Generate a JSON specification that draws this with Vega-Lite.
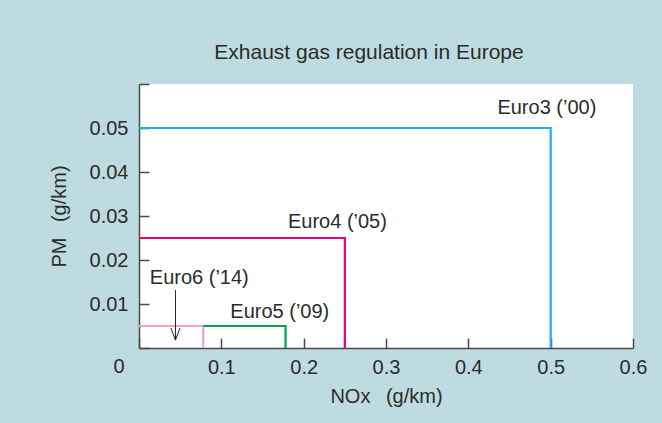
{
  "$schema": "https://vega.github.io/schema/vega-lite/v6.json",
  "width": 494,
  "height": 264,
  "autosize": {"type": "none"},
  "padding": {"left": 139, "top": 84, "right": 29, "bottom": 75},
  "background": "#bddbe0",
  "config": {
    "view": {"fill": "white", "stroke": null},
    "font": "Liberation Sans"
  },
  "title": {
    "text": "Exhaust gas regulation in Europe",
    "fontSize": 21,
    "fontWeight": "normal",
    "color": "#2b2b2b",
    "font": "Liberation Sans",
    "baseline": "alphabetic",
    "anchor": "middle",
    "offset": 3,
    "dx": -17
  },
  "datasets": {
    "limits": [
      {"series": "Euro3", "o": 1, "x": 0, "y": 0.05},
      {"series": "Euro3", "o": 2, "x": 0.5, "y": 0.05},
      {"series": "Euro3", "o": 3, "x": 0.5, "y": 0},
      {"series": "Euro4", "o": 1, "x": 0, "y": 0.025},
      {"series": "Euro4", "o": 2, "x": 0.25, "y": 0.025},
      {"series": "Euro4", "o": 3, "x": 0.25, "y": 0},
      {"series": "Euro6", "o": 1, "x": 0, "y": 0.005},
      {"series": "Euro6", "o": 2, "x": 0.078, "y": 0.005},
      {"series": "Euro6", "o": 3, "x": 0.078, "y": 0},
      {"series": "Euro5", "o": 1, "x": 0.078, "y": 0.005},
      {"series": "Euro5", "o": 2, "x": 0.178, "y": 0.005},
      {"series": "Euro5", "o": 3, "x": 0.178, "y": 0}
    ],
    "labels": [
      {"label": "Euro3 (’00)", "x": 0.4954, "y": 0.0531},
      {"label": "Euro4 (’05)", "x": 0.241, "y": 0.0273},
      {"label": "Euro5 (’09)", "x": 0.171, "y": 0.0068},
      {"label": "Euro6 (’14)", "x": 0.0732, "y": 0.0145}
    ],
    "arrow": [
      {"x": 0.0443, "y": 0.0132, "y2": 0.0018}
    ],
    "origin": [
      {"x": 0, "y": 0, "label": "0"}
    ]
  },
  "encoding": {
    "x": {
      "field": "x",
      "type": "quantitative",
      "scale": {"domain": [0, 0.6], "nice": false, "zero": true},
      "axis": {
        "values": [0, 0.1, 0.2, 0.3, 0.4, 0.5, 0.6],
        "format": ".1f",
        "labelExpr": "datum.value < 0.001 ? '' : datum.label",
        "grid": false,
        "domainColor": "#4a4a4a",
        "domainWidth": 1.5,
        "tickColor": "#4a4a4a",
        "tickWidth": 1.5,
        "tickSize": -10,
        "labelPadding": 19,
        "labelFlush": false,
        "labelFontSize": 20,
        "labelColor": "#2b2b2b",
        "labelFont": "Liberation Sans",
        "title": "NOx\u2002 (g/km)",
        "titleFont": "Liberation Sans",
        "titleFontSize": 20,
        "titleFontWeight": "normal",
        "titleColor": "#2b2b2b",
        "titleBaseline": "alphabetic",
        "titleY": 54
      }
    },
    "y": {
      "field": "y",
      "type": "quantitative",
      "scale": {"domain": [0, 0.06], "nice": false, "zero": true},
      "axis": {
        "values": [0, 0.01, 0.02, 0.03, 0.04, 0.05, 0.06],
        "format": ".2f",
        "labelExpr": "datum.value < 0.001 || datum.value > 0.055 ? '' : datum.label",
        "grid": false,
        "domainColor": "#4a4a4a",
        "domainWidth": 1.5,
        "tickColor": "#4a4a4a",
        "tickWidth": 1.5,
        "tickSize": -10,
        "labelPadding": 21,
        "labelFontSize": 20,
        "labelColor": "#2b2b2b",
        "labelFont": "Liberation Sans",
        "title": "PM\u2002 (g/km)",
        "titleFont": "Liberation Sans",
        "titleFontSize": 20,
        "titleFontWeight": "normal",
        "titleColor": "#2b2b2b",
        "titleAngle": 270,
        "titleBaseline": "alphabetic",
        "titleAlign": "center",
        "titleX": -74,
        "titleY": 132
      }
    }
  },
  "layer": [
    {
      "data": {"name": "limits"},
      "mark": {"type": "line", "strokeWidth": 2.2},
      "encoding": {
        "color": {
          "field": "series",
          "type": "nominal",
          "scale": {
            "domain": ["Euro3", "Euro4", "Euro5", "Euro6"],
            "range": ["#19b0ea", "#e6007e", "#00a551", "#f2a2c9"]
          },
          "legend": null
        },
        "order": {"field": "o", "type": "quantitative"}
      }
    },
    {
      "data": {"name": "labels"},
      "mark": {"type": "text", "fontSize": 20, "align": "center", "baseline": "alphabetic", "color": "#2b2b2b", "font": "Liberation Sans"},
      "encoding": {
        "text": {"field": "label", "type": "nominal"}
      }
    },
    {
      "data": {"name": "arrow"},
      "mark": {"type": "rule", "color": "#222222", "strokeWidth": 1},
      "encoding": {
        "y2": {"field": "y2"}
      }
    },
    {
      "data": {"name": "arrow"},
      "mark": {"type": "point", "shape": "M-0.375,-1L0,0L0.375,-1", "size": 576, "filled": false, "stroke": "#222222", "strokeWidth": 1, "opacity": 1},
      "encoding": {
        "y": {"field": "y2", "type": "quantitative"}
      }
    },
    {
      "data": {"name": "origin"},
      "mark": {"type": "text", "fontSize": 20, "align": "center", "baseline": "alphabetic", "dx": -20, "dy": 25, "color": "#2b2b2b", "font": "Liberation Sans"},
      "encoding": {
        "text": {"field": "label", "type": "nominal"}
      }
    }
  ]
}
